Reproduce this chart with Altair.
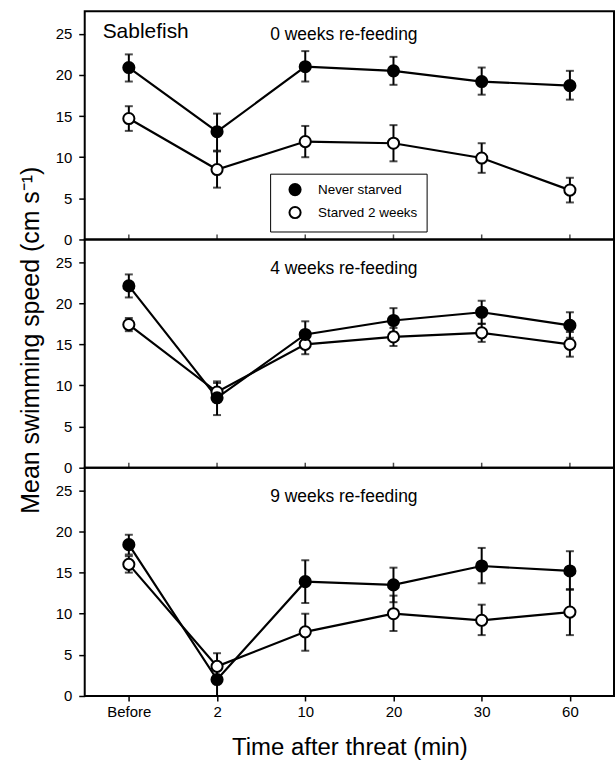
import altair as alt
import pandas as pd

# ---------------- data ----------------
times = ["Before", "2", "10", "20", "30", "60"]
groups = ["Never starved", "Starved 2 weeks"]
panel_titles = ["0 weeks re-feeding", "4 weeks re-feeding", "9 weeks re-feeding"]
species = ["Sablefish"]

p0_never_mean = [20.9, 13.1, 21.0, 20.5, 19.2, 18.7]
p0_never_lo = [19.2, 10.8, 19.2, 18.8, 17.6, 17.0]
p0_never_hi = [22.5, 15.3, 22.9, 22.2, 20.9, 20.5]
p0_starv_mean = [14.7, 8.5, 11.9, 11.7, 9.9, 6.0]
p0_starv_lo = [13.2, 6.3, 10.0, 9.5, 8.1, 4.5]
p0_starv_hi = [16.2, 10.7, 13.8, 13.9, 11.7, 7.5]

p4_never_mean = [22.1, 8.5, 16.2, 17.9, 18.9, 17.3]
p4_never_lo = [20.7, 6.4, 14.7, 16.5, 17.5, 15.8]
p4_never_hi = [23.5, 10.3, 17.8, 19.4, 20.3, 18.9]
p4_starv_mean = [17.4, 9.2, 15.0, 15.9, 16.4, 15.0]
p4_starv_lo = [16.6, 8.0, 13.8, 14.8, 15.3, 13.5]
p4_starv_hi = [18.2, 10.5, 16.2, 17.0, 17.5, 16.5]

p9_never_mean = [18.4, 2.0, 13.9, 13.5, 15.8, 15.2]
p9_never_lo = [17.2, 0.0, 11.3, 11.4, 13.7, 12.9]
p9_never_hi = [19.6, 3.8, 16.5, 15.6, 18.0, 17.6]
p9_starv_mean = [16.0, 3.6, 7.8, 10.0, 9.2, 10.2]
p9_starv_lo = [15.0, 2.1, 5.5, 7.9, 7.4, 7.4]
p9_starv_hi = [17.0, 5.2, 10.0, 12.2, 11.1, 13.0]

y_ticks = [0, 5, 10, 15, 20, 25]

panels = {
    0: {"Starved 2 weeks": (p0_starv_mean, p0_starv_lo, p0_starv_hi),
        "Never starved": (p0_never_mean, p0_never_lo, p0_never_hi)},
    1: {"Starved 2 weeks": (p4_starv_mean, p4_starv_lo, p4_starv_hi),
        "Never starved": (p4_never_mean, p4_never_lo, p4_never_hi)},
    2: {"Starved 2 weeks": (p9_starv_mean, p9_starv_lo, p9_starv_hi),
        "Never starved": (p9_never_mean, p9_never_lo, p9_never_hi)},
}

rows = []
for pid, gd in panels.items():
    for gi, (g, (m, lo, hi)) in enumerate(gd.items()):
        for i, t in enumerate(times):
            rows.append(dict(panel=pid, group=g, gorder=gi, time=t, idx=i,
                             mean=m[i], lo=lo[i], hi=hi[i]))
df = pd.DataFrame(rows)

FONT = "Liberation Sans"
W, H = 531, 229
YDOM = [0, 27.75]


def make_panel(pid, bottom, ytitle, legend):
    d = df[df.panel == pid]
    base = alt.Chart(d)

    xscale = alt.Scale(type="point", padding=0.5, domain=times)
    if bottom:
        xaxis = alt.Axis(title="Time after threat (min)", labelFontSize=15,
                         titleFontSize=24, tickSize=5, tickWidth=1.5, tickColor="black",
                         labelPadding=4, titlePadding=16, domain=False,
                         labelColor="black", titleColor="black", labelAngle=0,
                         labelFont=FONT, titleFont=FONT, titleFontWeight="normal")
        X = alt.X("time:N", sort=times, scale=xscale, axis=xaxis)
    else:
        X = alt.X("time:N", sort=times, scale=xscale, axis=None)

    yscale = alt.Scale(domain=YDOM, nice=False, zero=False)
    ykw = dict(values=y_ticks, tickSize=6, tickWidth=1.5, tickColor="black",
               labelPadding=7, labelFontSize=15, domain=False, grid=False,
               labelColor="black", titleColor="black", titleFontSize=25,
               titlePadding=12, labelFont=FONT, titleFont=FONT,
               titleFontWeight="normal")
    if ytitle:
        yaxis = alt.Axis(title=ytitle, titleY=H / 2 - 14, **ykw)
    else:
        yaxis = alt.Axis(title=None, **ykw)

    def Y(field):
        return alt.Y(field, scale=yscale, axis=yaxis)

    lines = base.mark_line(color="black", strokeWidth=2.2).encode(
        x=X, y=Y("mean:Q"), detail="group:N", order="idx:Q",
    )
    rules = base.mark_rule(color="black", strokeWidth=2).encode(
        x=X, y=Y("lo:Q"), y2="hi:Q", detail="group:N",
    )
    cap_lo = base.mark_tick(orient="horizontal", color="black", size=8, thickness=2).encode(
        x=X, y=Y("lo:Q"))
    cap_hi = base.mark_tick(orient="horizontal", color="black", size=8, thickness=2).encode(
        x=X, y=Y("hi:Q"))

    if legend:
        leg = alt.Legend(title=None, orient="none", legendX=186, legendY=163,
                         strokeColor="black", padding=9, fillColor="white",
                         symbolType="circle", symbolSize=125, symbolStrokeColor="black",
                         symbolStrokeWidth=2, symbolOffset=9, labelOffset=16,
                         labelFontSize=13.5, labelColor="black", rowPadding=3,
                         labelFont=FONT, cornerRadius=0)
    else:
        leg = None
    pts = base.mark_point(shape="circle", size=125, stroke="black", strokeWidth=2,
                          opacity=1, fillOpacity=1).encode(
        x=X, y=Y("mean:Q"),
        fill=alt.Fill("group:N", scale=alt.Scale(domain=groups, range=["black", "white"]),
                      legend=leg),
        order=alt.Order("gorder:Q"),
    )

    layers = [lines, rules, cap_lo, cap_hi, pts]

    if not bottom:
        xt = alt.Chart(pd.DataFrame({"time": times, "zero": [0] * len(times)})).mark_tick(
            orient="vertical", color="black", size=5, thickness=1.5, yOffset=-2.5
        ).encode(x=X, y=Y("zero:Q"))
        layers.append(xt)

    title_y = [24, 30, 29][pid]
    ttl = alt.Chart(pd.DataFrame({"label": [panel_titles[pid]]})).mark_text(
        font=FONT, fontSize=17.5, color="black", align="center", baseline="middle"
    ).encode(x=alt.value(260), y=alt.value(title_y), text="label:N")
    layers.append(ttl)

    if pid == 0:
        sp = alt.Chart(pd.DataFrame({"label": species})).mark_text(
            font=FONT, fontSize=21, color="black", align="left", baseline="middle"
        ).encode(x=alt.value(18), y=alt.value(21), text="label:N")
        layers.append(sp)

    return alt.layer(*layers).properties(width=W, height=H)


p1 = make_panel(0, False, None, True)
p2 = make_panel(1, False, "Mean swimming speed (cm s\u207B\u00B9)", False)
p3 = make_panel(2, True, None, False)

chart = (
    alt.vconcat(p1, p2, p3, spacing=0, bounds="flush")
    .resolve_scale(fill="independent")
    .resolve_legend(fill="independent")
    .properties(padding={"left": 17, "top": 9, "right": 1, "bottom": 2},
                background="white")
    .configure_view(stroke="black", strokeWidth=2)
    .configure_axis(labelFont=FONT, titleFont=FONT, titleFontWeight="normal")
    .configure_legend(labelFont=FONT)
    .configure_text(font=FONT)
)

chart.save("out.html", embed_options={"renderer": "svg", "actions": False})
